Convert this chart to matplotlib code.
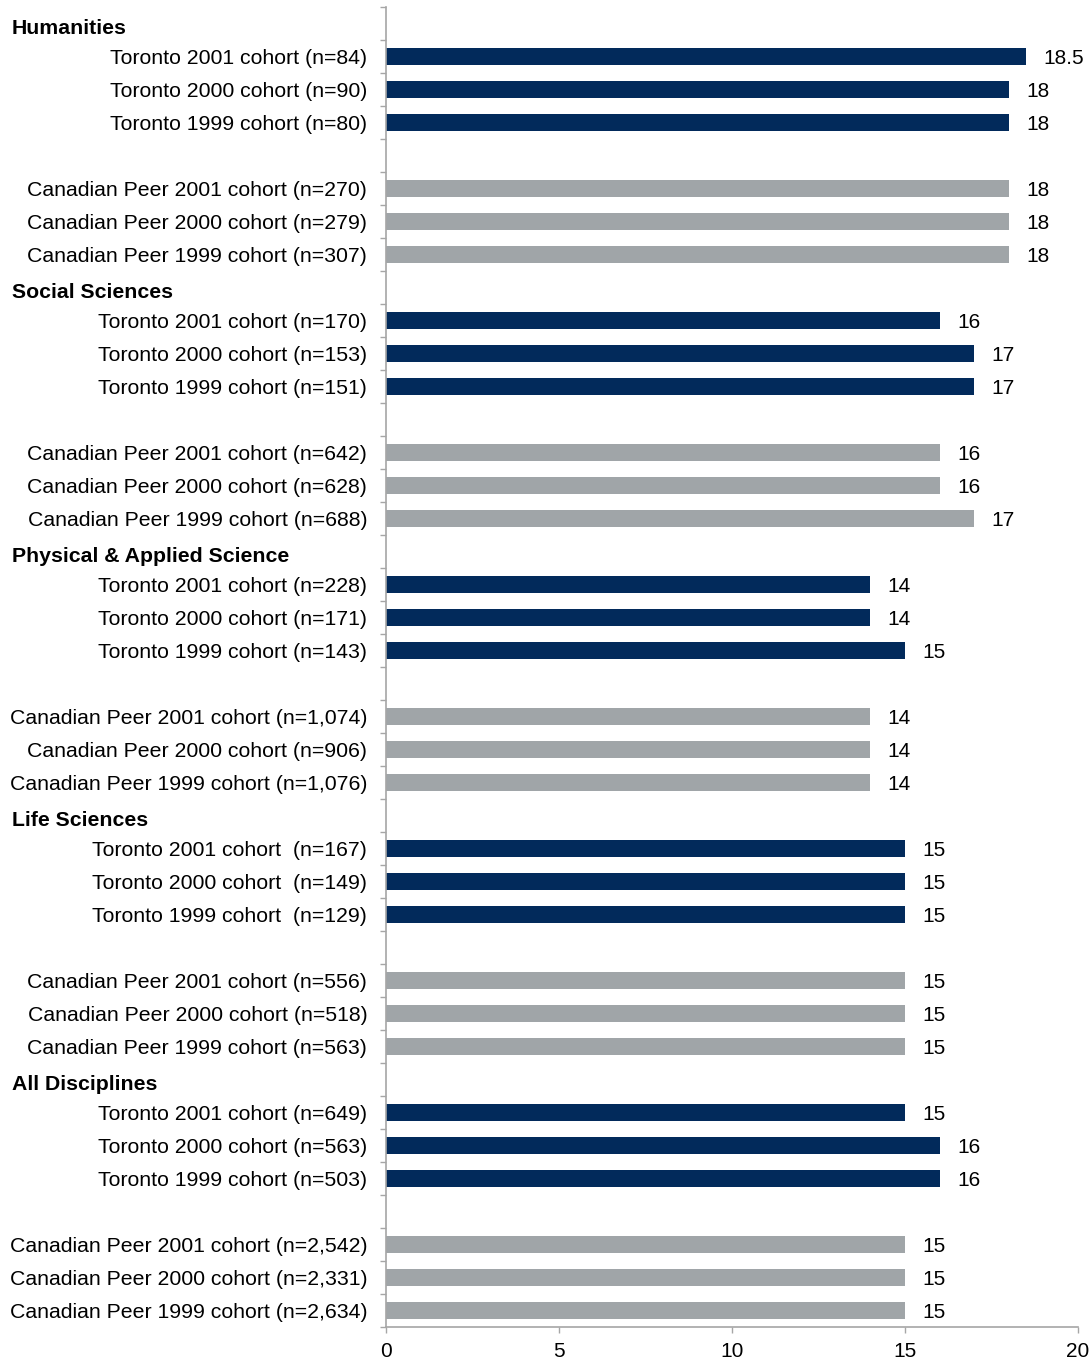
import matplotlib.pyplot as plt
from matplotlib.transforms import blended_transform_factory

plt.rcParams['font.family'] = ['Liberation Sans', 'DejaVu Sans']

# group headers, top to bottom
groups = ["Humanities", "Social Sciences", "Physical & Applied Science",
          "Life Sciences", "All Disciplines"]

toronto_labels = [
    ["Toronto 2001 cohort (n=84)", "Toronto 2000 cohort (n=90)", "Toronto 1999 cohort (n=80)"],
    ["Toronto 2001 cohort (n=170)", "Toronto 2000 cohort (n=153)", "Toronto 1999 cohort (n=151)"],
    ["Toronto 2001 cohort (n=228)", "Toronto 2000 cohort (n=171)", "Toronto 1999 cohort (n=143)"],
    ["Toronto 2001 cohort  (n=167)", "Toronto 2000 cohort  (n=149)", "Toronto 1999 cohort  (n=129)"],
    ["Toronto 2001 cohort (n=649)", "Toronto 2000 cohort (n=563)", "Toronto 1999 cohort (n=503)"],
]
toronto_values = [
    [18.5, 18, 18],
    [16, 17, 17],
    [14, 14, 15],
    [15, 15, 15],
    [15, 16, 16],
]

peer_labels = [
    ["Canadian Peer 2001 cohort (n=270)", "Canadian Peer 2000 cohort (n=279)", "Canadian Peer 1999 cohort (n=307)"],
    ["Canadian Peer 2001 cohort (n=642)", "Canadian Peer 2000 cohort (n=628)", "Canadian Peer 1999 cohort (n=688)"],
    ["Canadian Peer 2001 cohort (n=1,074)", "Canadian Peer 2000 cohort (n=906)", "Canadian Peer 1999 cohort (n=1,076)"],
    ["Canadian Peer 2001 cohort (n=556)", "Canadian Peer 2000 cohort (n=518)", "Canadian Peer 1999 cohort (n=563)"],
    ["Canadian Peer 2001 cohort (n=2,542)", "Canadian Peer 2000 cohort (n=2,331)", "Canadian Peer 1999 cohort (n=2,634)"],
]
peer_values = [
    [18, 18, 18],
    [16, 16, 17],
    [14, 14, 14],
    [15, 15, 15],
    [15, 15, 15],
]

NAVY = "#022a5b"
GREY = "#a0a5a8"
AXIS = "#a6a6a6"

# build the slot layout: header, 3 toronto, blank, 3 peer
slot_labels = []
header_pos = []
bars = []  # (pos, value, colour)
pos = 0
for g, name in enumerate(groups):
    header_pos.append((pos, name))
    slot_labels.append("")
    pos += 1
    for lab, v in zip(toronto_labels[g], toronto_values[g]):
        slot_labels.append(lab)
        bars.append((pos, v, NAVY))
        pos += 1
    slot_labels.append("")
    pos += 1
    for lab, v in zip(peer_labels[g], peer_values[g]):
        slot_labels.append(lab)
        bars.append((pos, v, GREY))
        pos += 1
n_slots = pos

fig = plt.figure(figsize=(10.89, 13.61), dpi=100)
ax = fig.add_axes([0.3545, 0.025, 0.9899 - 0.3545, 0.9949 - 0.025])

for p, v, c in bars:
    ax.barh(p, v, height=0.5, color=c)
    ax.text(v + 0.5, p, f"{v:g}", va="center_baseline", ha="left", fontsize=15, color="#000000")

ax.set_xlim(0, 20)
ax.set_ylim(n_slots - 0.5, -0.5)
ax.set_xticks([0, 5, 10, 15, 20])
ax.set_yticks(range(n_slots))
ax.set_yticklabels(slot_labels)
ax.set_yticks([i - 0.5 for i in range(n_slots + 1)], minor=True)

ax.tick_params(axis="y", which="major", length=0, pad=13.5, labelsize=15.3)
ax.tick_params(axis="y", which="minor", length=4.5, width=1, color=AXIS, direction="out")
ax.tick_params(axis="x", which="major", length=4.5, width=1, color=AXIS, labelsize=15, pad=6.5)

for s in ("top", "right"):
    ax.spines[s].set_visible(False)
for s in ("left", "bottom"):
    ax.spines[s].set_color(AXIS)
    ax.spines[s].set_linewidth(1.2)

trans = blended_transform_factory(fig.transFigure, ax.transData)
for p, name in header_pos:
    ax.text(0.011, p + 0.1, name, transform=trans, ha="left", va="center_baseline",
            fontsize=15.3, fontweight="bold", clip_on=False)

fig.savefig("out.png", dpi=100)
